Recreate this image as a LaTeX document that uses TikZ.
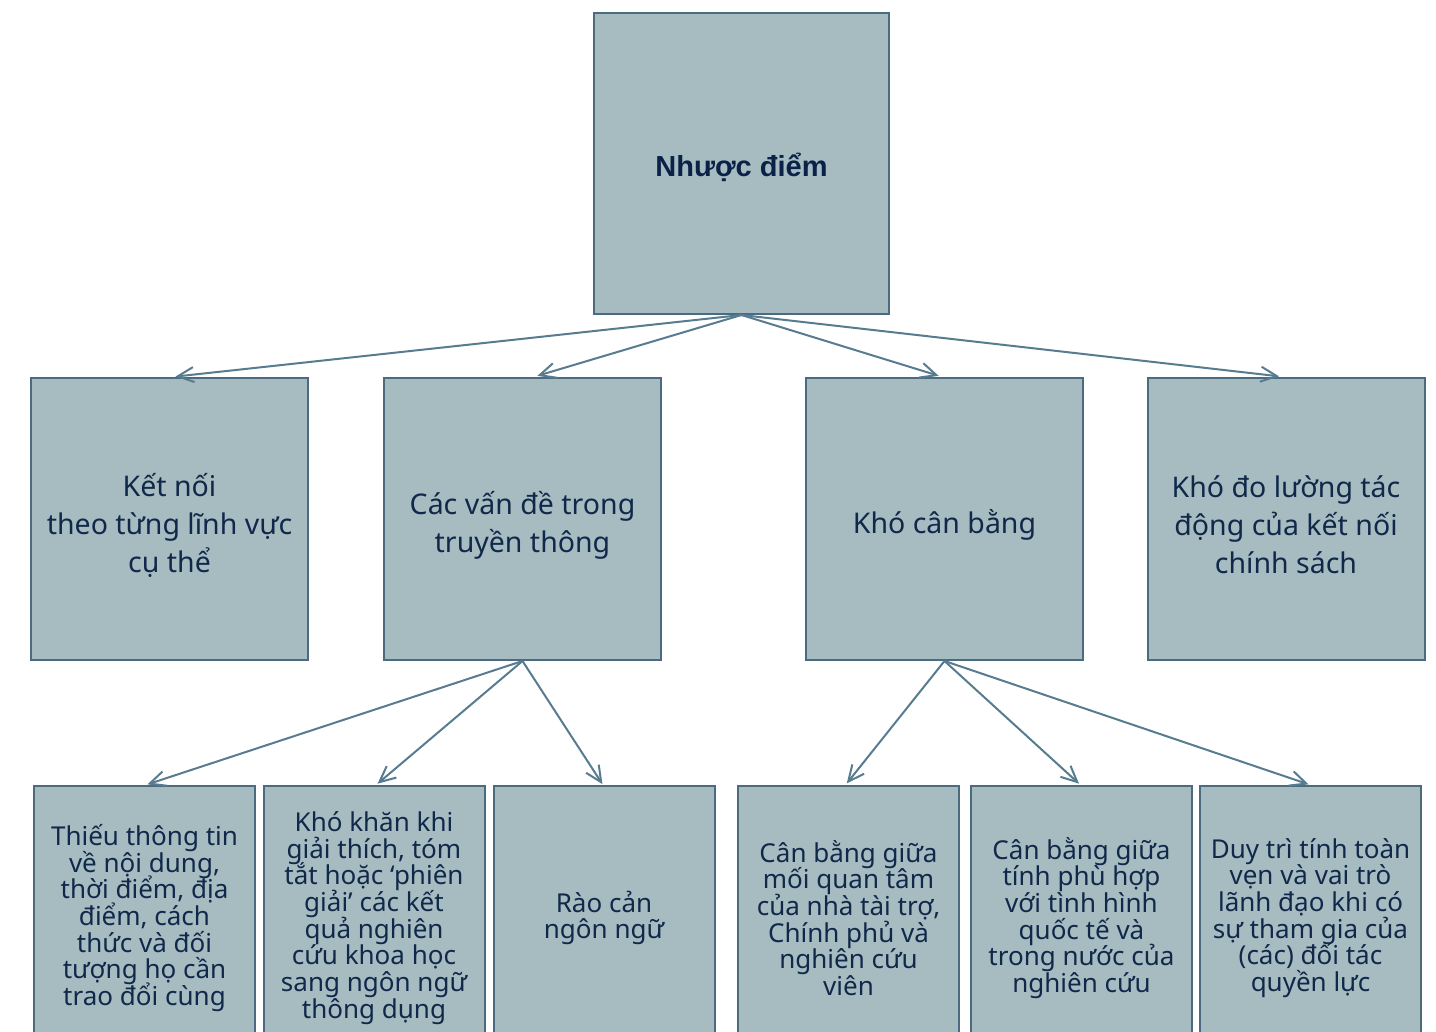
\documentclass[tikz,border=0pt]{standalone}
\usepackage{fontspec}
\setmainfont{Noto Sans}
\newfontfamily\rootfont{Liberation Sans}
\usetikzlibrary{arrows.meta}
\definecolor{boxfill}{HTML}{A7BCC1}
\definecolor{boxline}{HTML}{4B6B80}
\definecolor{boxtext}{HTML}{10294A}
\definecolor{toptext}{HTML}{0A2247}
\definecolor{linkcol}{HTML}{577B8F}
% keep a fixed baseline distance even where accents stack up
\newcommand\fixedlines{\lineskiplimit=-100pt\relax\lineskip=0pt\relax}
\tikzset{
  card/.style={rectangle, draw=boxline, fill=boxfill, line width=2pt,
    inner sep=0pt},
  rootbox/.style={card, minimum width=295pt, minimum height=301pt},
  midbox/.style={card, minimum width=277pt, minimum height=282pt},
  leafbox/.style={card, minimum width=221pt, minimum height=260pt},
  label text/.style={inner sep=0pt, align=center, text=boxtext},
  roottext/.style={label text, text=toptext,
    font=\rootfont\bfseries\fontsize{29}{36}\selectfont},
  midtext/.style={label text,
    font=\fontsize{28.5}{38}\selectfont\fixedlines},
  leaftext/.style={label text,
    font=\fontsize{26}{26.7}\selectfont\fixedlines},
  link/.style={draw=linkcol, line width=2pt,
    -{Straight Barb[length=16pt,width=15pt,line width=2pt]}}
}
\begin{document}
\begin{tikzpicture}[x=1pt,y=-1pt]
\useasboundingbox (0,0) rectangle (1436,1032);

% boxes
\node[rootbox] (root) at (741.5,163.5) {};
\node[midbox] (m1) at (169.5,519) {};
\node[midbox] (m2) at (522.5,519) {};
\node[midbox] (m3) at (944.5,519) {};
\node[midbox] (m4) at (1286,519) {};
\node[leafbox] (b1) at (144.5,916) {};
\node[leafbox] (b2) at (374,916) {};
\node[leafbox] (b3) at (604,916) {};
\node[leafbox] (b4) at (848.5,916) {};
\node[leafbox] (b5) at (1081.5,916) {};
\node[leafbox] (b6) at (1310.5,916) {};

% box texts
\node[roottext] (roott) at ([yshift=-4pt]root.center) {Nhược điểm};
\node[midtext] (m1t) at ([yshift=-6pt]m1.center) {Kết nối\\theo từng lĩnh vực\\cụ thể};
\node[midtext] (m2t) at ([yshift=-6pt]m2.center) {Các vấn đề trong\\truyền thông};
\node[midtext] (m3t) at ([yshift=-6pt]m3.center) {Khó cân bằng};
\node[midtext] (m4t) at ([yshift=-6pt]m4.center) {Khó đo lường tác\\động của kết nối\\chính sách};
\node[leaftext] (b1t) at ([yshift=-2pt]b1.center) {Thiếu thông tin\\về nội dung,\\thời điểm, địa\\điểm, cách\\thức và đối\\tượng họ cần\\trao đổi cùng};
\node[leaftext] (b2t) at ([yshift=-2pt]b2.center) {Khó khăn khi\\giải thích, tóm\\tắt hoặc ‘phiên\\giải’ các kết\\quả nghiên\\cứu khoa học\\sang ngôn ngữ\\thông dụng};
\node[leaftext] (b3t) at ([yshift=-2pt]b3.center) {Rào cản\\ngôn ngữ};
\node[leaftext] (b4t) at ([yshift=-2pt]b4.center) {Cân bằng giữa\\mối quan tâm\\của nhà tài trợ,\\Chính phủ và\\nghiên cứu\\viên};
\node[leaftext] (b5t) at ([yshift=-2pt]b5.center) {Cân bằng giữa\\tính phù hợp\\với tình hình\\quốc tế và\\trong nước của\\nghiên cứu};
\node[leaftext] (b6t) at ([yshift=-2pt]b6.center) {Duy trì tính toàn\\vẹn và vai trò\\lãnh đạo khi có\\sự tham gia của\\(các) đối tác\\quyền lực};

% connectors
\draw[link, shorten >=4pt] (root.south) -- ([xshift=2pt]m1.north);
\draw[link, shorten >=4pt] (root.south) -- ([xshift=11pt]m2.north);
\draw[link, shorten >=4pt] (root.south) -- ([xshift=-2pt]m3.north);
\draw[link, shorten >=6pt] (root.south) -- ([xshift=-1pt]m4.north);
\draw[link, shorten >=2pt] (m2.south) -- ([xshift=1pt]b1.north);
\draw[link, shorten >=2pt] (m2.south) -- ([xshift=2pt]b2.north);
\draw[link, shorten >=1pt] (m2.south) -- ([xshift=-1pt]b3.north);
\draw[link, shorten >=2pt] (m3.south) -- ([xshift=-3pt]b4.north);
\draw[link, shorten >=2pt] (m3.south) -- ([xshift=-1pt]b5.north);
\draw[link, shorten >=2pt] (m3.south) -- (b6.north);
\end{tikzpicture}
\end{document}
